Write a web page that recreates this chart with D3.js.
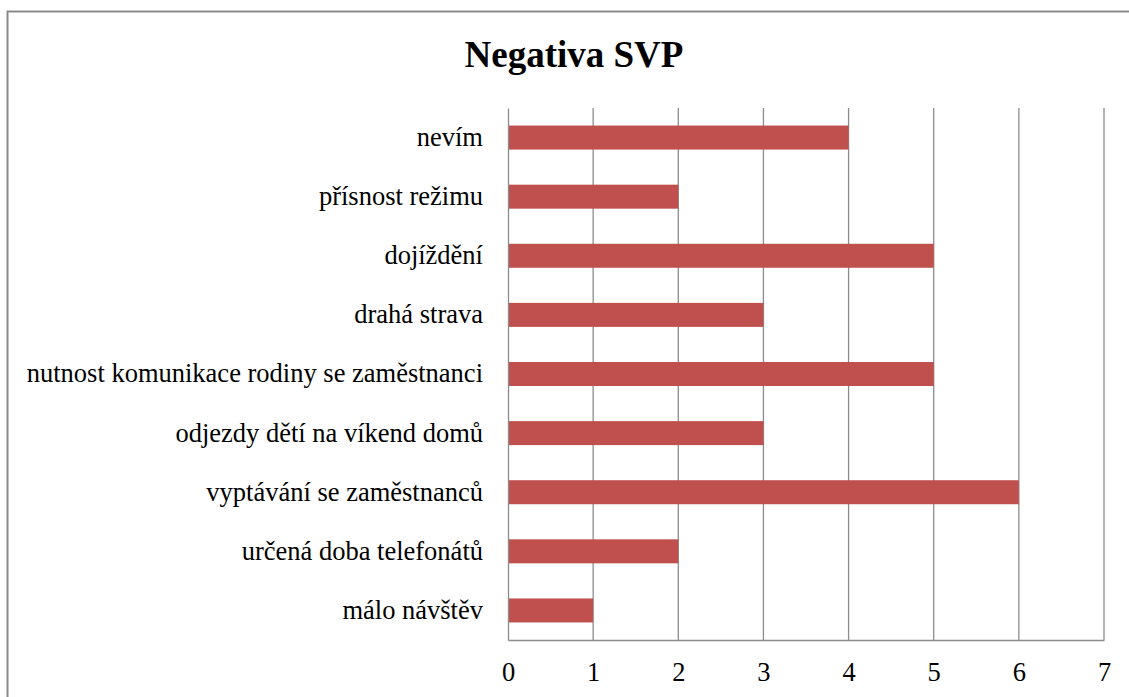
<!DOCTYPE html>
<html>
<head>
<meta charset="utf-8">
<script src="https://cdn.jsdelivr.net/npm/d3@7"></script>
<style>
  body { margin: 0; background: #fff; overflow: hidden; }
  svg { display: block; font-family: "Liberation Serif", "Times New Roman", serif; }
</style>
</head>
<body>
<div id="chart"></div>
<script>
// Chart data (top to bottom)
const categories = [
  "nevím",
  "přísnost režimu",
  "dojíždění",
  "drahá strava",
  "nutnost komunikace rodiny se zaměstnanci",
  "odjezdy dětí na víkend domů",
  "vyptávání se zaměstnanců",
  "určená doba telefonátů",
  "málo návštěv"
];
const values = [4, 2, 5, 3, 5, 3, 6, 2, 1];
const xTicks = [0, 1, 2, 3, 4, 5, 6, 7];
const title = "Negativa SVP";

const W = 1129, H = 697;
const plot = { left: 508, right: 1104, top: 108, bottom: 640 };
const serif = "'Liberation Serif', 'Times New Roman', serif";

const svg = d3.select("#chart").append("svg")
  .attr("width", W)
  .attr("height", H);

// outer chart border (runs off the right/bottom edge)
svg.append("rect")
  .attr("x", 7.5).attr("y", 11.5)
  .attr("width", W + 20).attr("height", H + 20)
  .attr("fill", "none")
  .attr("stroke", "#8a8a8a")
  .attr("stroke-width", 2);

const x = d3.scaleLinear().domain([0, 7]).range([plot.left, plot.right]);
const y = d3.scaleBand().domain(categories)
  .range([plot.top, plot.bottom])
  .paddingInner(0.594).paddingOuter(0.297);

// vertical gridlines
svg.append("g").selectAll("line")
  .data(xTicks.slice(1))
  .join("line")
  .attr("x1", d => x(d)).attr("x2", d => x(d))
  .attr("y1", plot.top).attr("y2", plot.bottom)
  .attr("stroke", "#8c8c8c")
  .attr("stroke-width", 1.3);

// bars
svg.append("g").selectAll("rect")
  .data(values)
  .join("rect")
  .attr("x", x(0))
  .attr("y", (d, i) => y(categories[i]))
  .attr("width", d => x(d) - x(0))
  .attr("height", y.bandwidth())
  .attr("fill", "#c0504d");

// x axis
const xAxis = svg.append("g")
  .attr("transform", `translate(0,${plot.bottom})`)
  .call(d3.axisBottom(x).tickValues(xTicks).tickSize(0).tickPadding(22).tickFormat(d3.format("d")))
  .attr("font-family", serif)
  .attr("font-size", 26.5);
xAxis.select(".domain").attr("stroke", "#8c8c8c").attr("stroke-width", 1.3);
xAxis.selectAll(".tick text").attr("fill", "#000");

// y axis
const yAxis = svg.append("g")
  .attr("transform", `translate(${plot.left},0)`)
  .call(d3.axisLeft(y).tickSize(0).tickPadding(25))
  .attr("font-family", serif)
  .attr("font-size", 26.5);
yAxis.select(".domain").attr("stroke", "#8c8c8c").attr("stroke-width", 1.3);
yAxis.selectAll(".tick text").attr("fill", "#000");

// title
svg.append("text")
  .attr("x", 574)
  .attr("y", 67)
  .attr("text-anchor", "middle")
  .attr("font-family", serif)
  .style("font-size", "37px")
  .style("font-weight", "bold")
  .text(title);
</script>
</body>
</html>
